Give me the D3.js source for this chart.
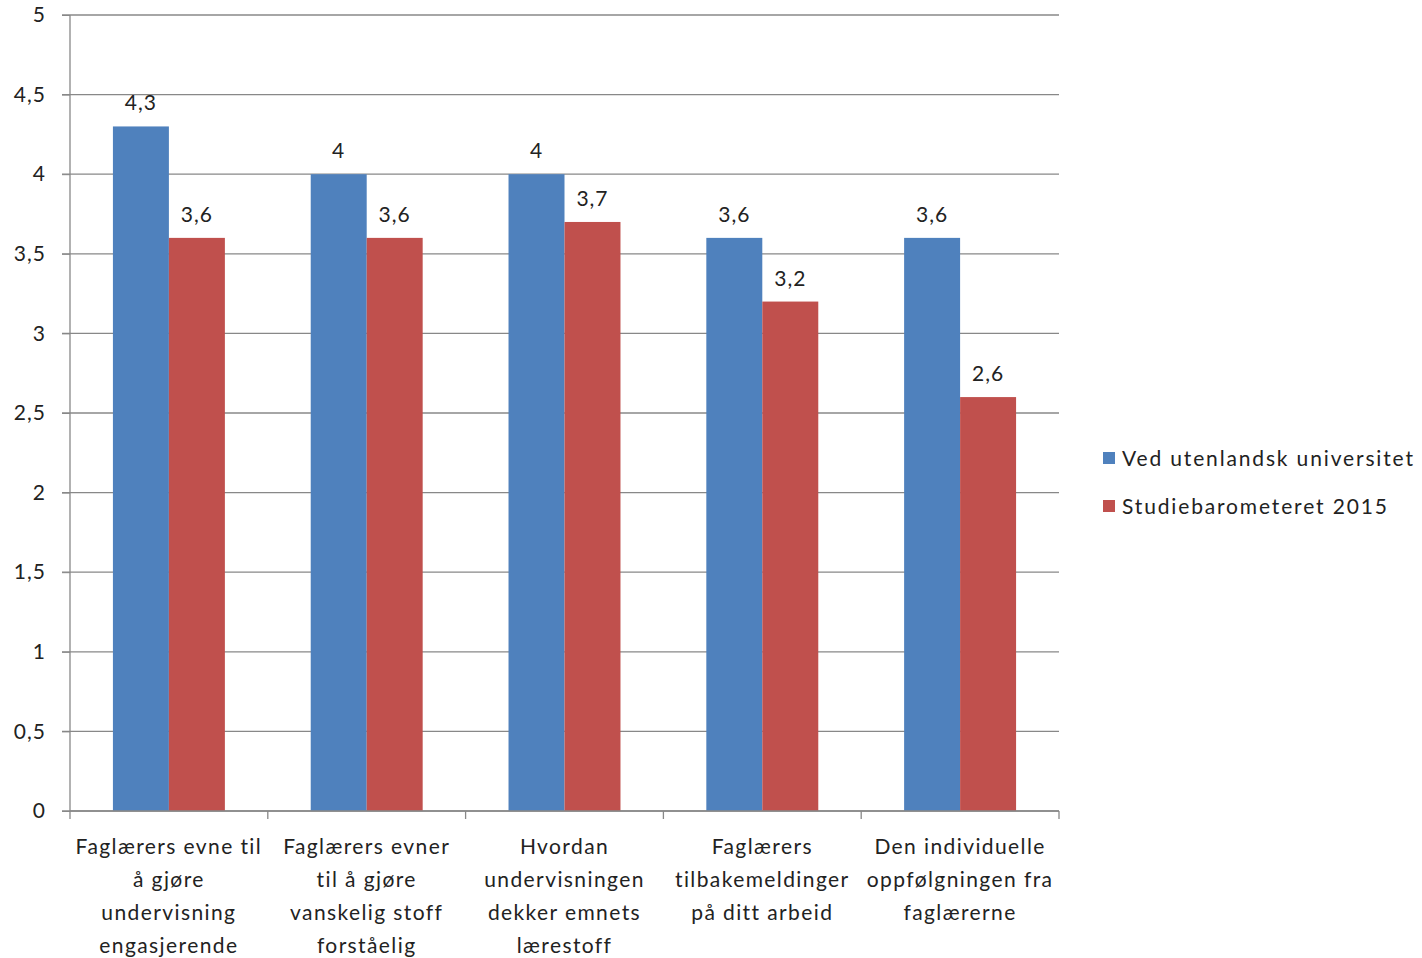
<!DOCTYPE html>
<html><head><meta charset="utf-8">
<script src="https://cdn.jsdelivr.net/npm/d3@7"></script>
<style>body{margin:0;background:#fff;} svg{display:block;font-family:Lato,"Open Sans",sans-serif;}</style>
</head><body>
<svg id="c" width="1422" height="958"></svg>
<script>
const categories = [
  ["Faglærers evne til","å gjøre","undervisning","engasjerende"],
  ["Faglærers evner","til å gjøre","vanskelig stoff","forståelig"],
  ["Hvordan","undervisningen","dekker emnets","lærestoff"],
  ["Faglærers","tilbakemeldinger","på ditt arbeid"],
  ["Den individuelle","oppfølgningen fra","faglærerne"]
];
const seriesNames = ["Ved utenlandsk universitet","Studiebarometeret 2015"];
const utenlandsk = [4.3, 4, 4, 3.6, 3.6];
const studiebarometeret = [3.6, 3.6, 3.7, 3.2, 2.6];
const yTicks = [0,0.5,1,1.5,2,2.5,3,3.5,4,4.5,5];
const colors = ["#4F81BD","#C0504D"];

const svg = d3.select("#c");
const L=70, R=1059, T=15, B=811;
const fmt = v => String(v).replace(".", ",");
const x0 = d3.scaleBand().domain(d3.range(categories.length)).range([L,R]).paddingInner(0).paddingOuter(0);
const bw = x0.bandwidth();
const gap = bw*0.217;
const x1 = d3.scaleBand().domain([0,1]).range([gap,bw-gap]).padding(0);
const y = d3.scaleLinear().domain([0,5]).range([B,T]);

// gridlines
svg.append("g").selectAll("line").data(yTicks).join("line")
  .attr("x1",L-8).attr("x2",R).attr("y1",d=>y(d)).attr("y2",d=>y(d))
  .attr("stroke","#888").attr("stroke-width",1.3);

// y axis
const ya = svg.append("g").attr("transform",`translate(${L},0)`)
  .call(d3.axisLeft(y).tickValues(yTicks).tickSize(8).tickFormat(fmt));
ya.select(".domain").attr("stroke","#888").attr("stroke-width",1.3).attr("d",`M0,${T}V${B}`);
ya.selectAll(".tick line").attr("stroke","#888");
ya.selectAll(".tick text").attr("x",-24).attr("font-size",21).attr("letter-spacing",1).attr("fill","#222").attr("font-family","Lato,sans-serif");

// bars
const data = categories.map((c,i)=>({i, vals:[utenlandsk[i], studiebarometeret[i]]}));
const groups = svg.append("g").selectAll("g").data(data).join("g")
  .attr("transform",d=>`translate(${x0(d.i)},0)`);
groups.selectAll("rect").data(d=>d.vals.map((v,s)=>({v,s}))).join("rect")
  .attr("x",d=>x1(d.s)).attr("width",x1.bandwidth())
  .attr("y",d=>y(d.v)).attr("height",d=>B-y(d.v))
  .attr("fill",d=>colors[d.s]);
groups.selectAll("text.val").data(d=>d.vals.map((v,s)=>({v,s}))).join("text")
  .attr("class","val")
  .attr("x",d=>x1(d.s)+x1.bandwidth()/2).attr("y",d=>y(d.v)-16)
  .attr("text-anchor","middle").attr("font-size",21).attr("letter-spacing",1).attr("fill","#222")
  .text(d=>fmt(d.v));

// x axis
svg.append("line").attr("x1",L).attr("x2",R).attr("y1",B).attr("y2",B).attr("stroke","#888").attr("stroke-width",1.3);
const xt = d3.range(categories.length+1).map(i=> i<categories.length ? x0(i) : R);
svg.append("g").selectAll("line").data(xt).join("line")
  .attr("x1",d=>d).attr("x2",d=>d).attr("y1",B).attr("y2",B+8).attr("stroke","#888").attr("stroke-width",1.3);
const xl = svg.append("g").selectAll("text").data(categories).join("text")
  .attr("x",(d,i)=>x0(i)+x0.bandwidth()/2).attr("y",854)
  .attr("text-anchor","middle").attr("font-size",21).attr("fill","#222").attr("letter-spacing",1.4);
xl.selectAll("tspan").data(d=>d).join("tspan")
  .attr("x",function(){return this.parentNode.getAttribute("x");})
  .attr("dy",(d,i)=>i===0?0:33).text(d=>d);

// legend
const lg = svg.append("g").selectAll("g").data(seriesNames).join("g")
  .attr("transform",(d,i)=>`translate(1103,${452+i*48})`);
lg.append("rect").attr("width",12).attr("height",12).attr("fill",(d,i)=>colors[i]);
lg.append("text").attr("x",19).attr("y",14).attr("font-size",21).attr("fill","#222").attr("letter-spacing",1.85).text(d=>d);
</script>
</body></html>
